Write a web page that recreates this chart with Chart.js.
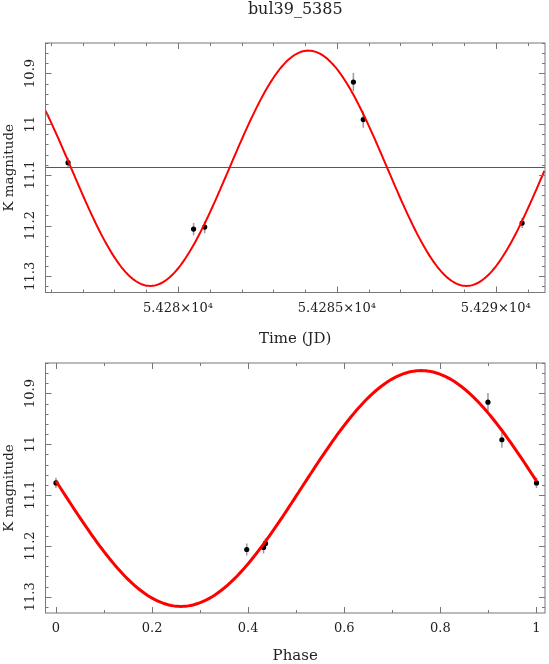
<!DOCTYPE html>
<html>
<head>
<meta charset="utf-8">
<script src="https://cdn.jsdelivr.net/npm/chart.js@4.4.0/dist/chart.umd.min.js"></script>
<style>
  html, body { margin: 0; padding: 0; background: #fff; }
  #wrap { position: relative; width: 549px; height: 664px; }
  #top { position: absolute; left: 0; top: 0; }
  #bot { position: absolute; left: 0; top: 350px; }
</style>
</head>
<body>
<div id="wrap">
  <canvas id="top" width="549" height="350"></canvas>
  <canvas id="bot" width="549" height="314"></canvas>
</div>
<script>
var starName = 'bul39_5385';

// observations (time panel)
var obsTime = [54276.54, 54280.49, 54280.84, 54285.52, 54285.83, 54290.83];
var obsMag  = [11.076, 11.207, 11.203, 10.917, 10.991, 11.195];
var obsErr  = [0.010, 0.012, 0.012, 0.018, 0.016, 0.010];

// folded observations (phase panel)
var phaseVal = [0, 0.397, 0.432, 0.436, 0.899, 0.928, 1.0];
var phaseMag = [11.076, 11.207, 11.203, 11.195, 10.917, 10.991, 11.076];
var phaseErr = [0.010, 0.012, 0.012, 0.010, 0.018, 0.016, 0.010];

// sine fit
var fitMean = 11.087, fitAmp = 0.232, fitPeriod = 9.95, fitEpoch = 54276.54, fitPhaseMin = 0.26;

var timeTicks  = [54280, 54285, 54290];
var phaseTicks = [0, 0.2, 0.4, 0.6, 0.8, 1];
var magTicks   = [10.9, 11, 11.1, 11.2, 11.3];

var FONT = { family: 'DejaVu Serif', size: 13 };
var XTITLE = { family: 'DejaVu Serif', size: 15, lineHeight: 1 };
var YTITLE = { family: 'DejaVu Serif', size: 13.5 };
var TXT = '#222';

function fitAtPhase(p) {
  return fitMean + fitAmp * Math.cos(2 * Math.PI * (p - fitPhaseMin));
}
function fitAtTime(t) {
  return fitAtPhase((t - fitEpoch) / fitPeriod);
}

// inward ticks + frame on all four sides
var frameTicks = {
  id: 'frameTicks',
  afterDatasetsDraw: function(chart, args, opts) {
    var a = chart.chartArea, ctx = chart.ctx;
    var sx = chart.scales.x, sy = chart.scales.y;
    ctx.save();
    ctx.strokeStyle = '#777';
    ctx.lineWidth = 1;
    ctx.strokeRect(a.left, a.top, a.right - a.left, a.bottom - a.top);
    ctx.beginPath();
    function each(scale, minor, major, fn) {
      var lo = Math.min(scale.min, scale.max), hi = Math.max(scale.min, scale.max);
      for (var k = Math.ceil(lo / minor - 1e-9); k * minor <= hi + 1e-9; k++) {
        var v = k * minor;
        var r = v / major;
        fn(scale.getPixelForValue(v), Math.abs(r - Math.round(r)) < 1e-6 ? 6 : 3);
      }
    }
    each(sx, opts.xMinor, opts.xMajor, function(p, len) {
      p = Math.round(p) + 0.5;
      ctx.moveTo(p, a.bottom); ctx.lineTo(p, a.bottom - len);
      ctx.moveTo(p, a.top); ctx.lineTo(p, a.top + len);
    });
    each(sy, opts.yMinor, opts.yMajor, function(p, len) {
      p = Math.round(p) + 0.5;
      ctx.moveTo(a.left, p); ctx.lineTo(a.left + len, p);
      ctx.moveTo(a.right, p); ctx.lineTo(a.right - len, p);
    });
    ctx.stroke();
    if (opts.title) {
      ctx.fillStyle = TXT;
      ctx.font = '16px "DejaVu Serif"';
      ctx.textAlign = 'center';
      ctx.textBaseline = 'middle';
      ctx.fillText(opts.title, (a.left + a.right) / 2, 9.5);
    }
    ctx.restore();
  }
};

// vertical error bars under the points
var errorBars = {
  id: 'errorBars',
  beforeDatasetDraw: function(chart, args) {
    var ds = chart.data.datasets[args.index];
    if (!ds.errors) return;
    var ctx = chart.ctx, sy = chart.scales.y;
    ctx.save();
    ctx.strokeStyle = '#9a9a9a';
    ctx.lineWidth = 1.5;
    ctx.beginPath();
    args.meta.data.forEach(function(pt, i) {
      var v = ds.data[i].y, e = ds.errors[i];
      ctx.moveTo(pt.x, sy.getPixelForValue(v - e));
      ctx.lineTo(pt.x, sy.getPixelForValue(v + e));
    });
    ctx.stroke();
    ctx.restore();
  }
};

function magAxis() {
  return {
    type: 'linear', reverse: true, min: 10.84, max: 11.332,
    afterBuildTicks: function(s) { s.ticks = magTicks.map(function(v) { return { value: v }; }); },
    afterFit: function(s) { s.width = 45.5; },
    grid: { display: false, drawTicks: false },
    border: { display: false },
    ticks: {
      font: FONT, color: TXT, padding: 0, autoSkip: false,
      minRotation: 90, maxRotation: 90, crossAlign: 'center',
      callback: function(v) { return String(+v.toFixed(2)); }
    },
    title: { display: true, text: 'K magnitude', font: YTITLE, color: TXT, padding: { top: 1, bottom: 0 } }
  };
}

function pointsSet(xs, ys, errs) {
  return {
    type: 'line', showLine: false,
    data: xs.map(function(x, i) { return { x: x, y: ys[i] }; }),
    errors: errs,
    pointRadius: 2.6, pointBackgroundColor: '#000', pointBorderWidth: 0,
    borderColor: '#000'
  };
}

// ---- time panel ----
var tMin = 54275.83, tMax = 54291.55;
var curveT = [];
for (var t = tMin; t <= tMax + 1e-9; t += 0.05) curveT.push({ x: t, y: fitAtTime(t) });

new Chart(document.getElementById('top'), {
  type: 'line',
  data: {
    datasets: [
      { data: curveT, borderColor: '#ff0000', borderWidth: 2, pointRadius: 0, tension: 0 },
      { data: [{ x: tMin, y: 11.0855 }, { x: tMax, y: 11.0855 }], borderColor: '#555', borderWidth: 1, pointRadius: 0 },
      pointsSet(obsTime, obsMag, obsErr)
    ]
  },
  options: {
    responsive: false, animation: false,
    layout: { padding: { top: 43, right: 3, left: 0, bottom: 0 } },
    plugins: {
      legend: { display: false }, tooltip: { enabled: false },
      frameTicks: { xMinor: 1, xMajor: 5, yMinor: 0.02, yMajor: 0.1, title: starName }
    },
    scales: {
      x: {
        type: 'linear', min: tMin, max: tMax,
        afterBuildTicks: function(s) { s.ticks = timeTicks.map(function(v) { return { value: v }; }); },
        afterFit: function(s) { s.height = 57.5; },
        grid: { display: false, drawTicks: false },
        border: { display: false },
        ticks: {
          font: FONT, color: TXT, padding: 8, maxRotation: 0, autoSkip: false,
          callback: function(v) { return (+(v / 1e4).toFixed(4)) + '\u00d710\u2074'; }
        },
        title: { display: true, text: 'Time (JD)', font: XTITLE, color: TXT, padding: { top: 0, bottom: 3 } }
      },
      y: magAxis()
    }
  },
  plugins: [frameTicks, errorBars]
});

// ---- phase panel ----
var curveP = [];
for (var p = 0; p <= 1 + 1e-9; p += 0.005) curveP.push({ x: p, y: fitAtPhase(p) });

new Chart(document.getElementById('bot'), {
  type: 'line',
  data: {
    datasets: [
      { data: curveP, borderColor: '#ff0000', borderWidth: 3, pointRadius: 0, tension: 0 },
      pointsSet(phaseVal, phaseMag, phaseErr)
    ]
  },
  options: {
    responsive: false, animation: false,
    layout: { padding: { top: 13, right: 3, left: 0, bottom: 0 } },
    plugins: {
      legend: { display: false }, tooltip: { enabled: false },
      frameTicks: { xMinor: 0.1, xMajor: 0.2, yMinor: 0.02, yMajor: 0.1 }
    },
    scales: {
      x: {
        type: 'linear', min: -0.0218, max: 1.0177,
        afterBuildTicks: function(s) { s.ticks = phaseTicks.map(function(v) { return { value: v }; }); },
        afterFit: function(s) { s.height = 51; },
        grid: { display: false, drawTicks: false },
        border: { display: false },
        ticks: {
          font: FONT, color: TXT, padding: 8, maxRotation: 0, autoSkip: false,
          callback: function(v) { return String(+v.toFixed(1)); }
        },
        title: { display: true, text: 'Phase', font: XTITLE, color: TXT, padding: { top: 0, bottom: 0 } }
      },
      y: magAxis()
    }
  },
  plugins: [frameTicks, errorBars]
});
</script>
</body>
</html>
